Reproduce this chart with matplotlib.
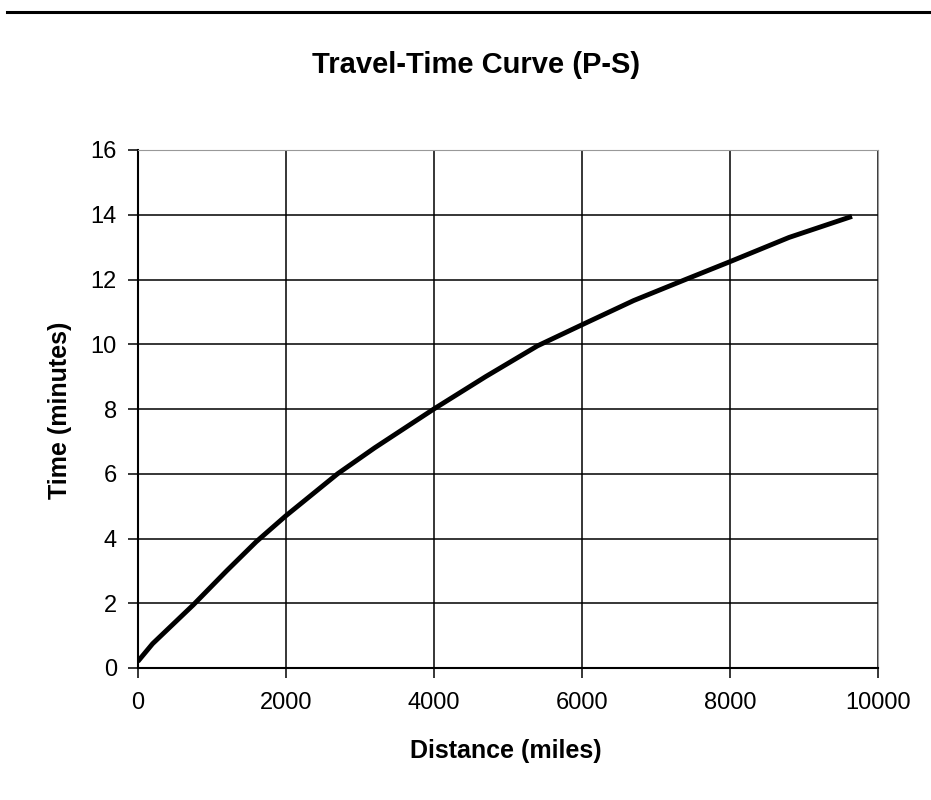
import matplotlib
matplotlib.use('Agg')
import matplotlib.pyplot as plt
from matplotlib.lines import Line2D

# travel-time curve
distance_miles = [0, 200, 750, 1200, 1600, 2000, 2700, 3200, 4000,
                  4700, 5400, 6000, 6700, 7400, 8000, 8800, 9650]
time_minutes = [0.2, 0.75, 1.95, 3.0, 3.9, 4.7, 6.0, 6.8, 8.0,
                9.0, 9.95, 10.6, 11.35, 12.0, 12.55, 13.3, 13.95]
x_ticks = [0, 2000, 4000, 6000, 8000, 10000]
y_ticks = [0, 2, 4, 6, 8, 10, 12, 14, 16]

plt.rcParams['font.family'] = ['Liberation Sans', 'DejaVu Sans']

fig = plt.figure(figsize=(9.31, 8), dpi=100)
ax = fig.add_axes([0.148, 0.165, 0.795, 0.6475])

ax.plot(distance_miles, time_minutes, color='black', linewidth=3.5,
        solid_capstyle='butt', solid_joinstyle='round')

ax.set_xlim(0, 10000)
ax.set_ylim(0, 16)
ax.set_xticks(x_ticks)
ax.set_yticks(y_ticks)
ax.grid(True, color='black', linewidth=1.1)
ax.set_axisbelow(True)
ax.tick_params(direction='out', length=7, width=1.1, labelsize=17, color='black')
ax.tick_params(axis='x', pad=10)
ax.tick_params(axis='y', pad=8)

ax.spines['left'].set_color('black')
ax.spines['bottom'].set_color('black')
ax.spines['left'].set_linewidth(1.5)
ax.spines['bottom'].set_linewidth(1.5)
ax.spines['right'].set_color('#999999')
ax.spines['top'].set_color('#999999')

fig.text(0.543, 0.0525, 'Distance (miles)', fontsize=18, fontweight='bold',
         ha='center', va='baseline')
fig.text(0.0645, 0.4875, 'Time (minutes)', fontsize=18, fontweight='bold',
         ha='center', va='center', rotation=90)
fig.text(0.511, 0.909, 'Travel-Time Curve (P-S)', fontsize=21, fontweight='bold',
         ha='center', va='baseline')

# rule across the top of the page
fig.add_artist(Line2D([0.008, 1.0], [0.985, 0.985], color='black', linewidth=2.2,
                      transform=fig.transFigure))

fig.savefig('out.png', dpi=100, facecolor='white')
